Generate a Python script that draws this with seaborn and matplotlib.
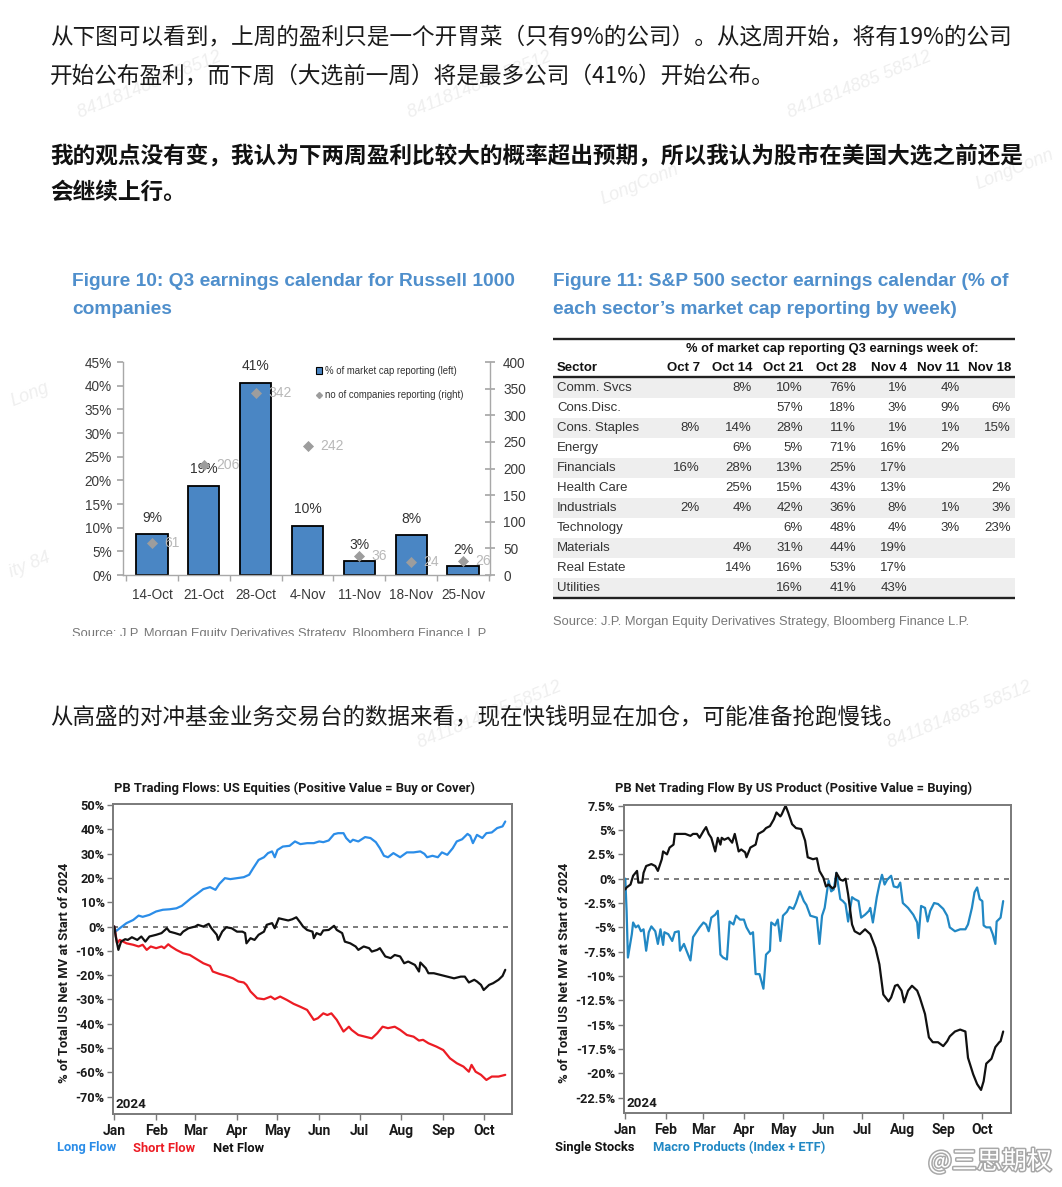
import numpy as np
import pandas as pd
import matplotlib
matplotlib.use('Agg')
import matplotlib.pyplot as plt
import matplotlib.patheffects as pe
from matplotlib.lines import Line2D
from matplotlib.patches import Patch, Rectangle
import seaborn as sns

sns.set_theme(style='white')
plt.rcParams['font.family'] = ['Liberation Sans', 'DejaVu Sans']

W, H = 1062, 1187
CJK = ['Noto Sans CJK SC', 'DejaVu Sans']
BOLD = ['Roboto', 'DejaVu Sans']

# ---- text of the post
para1 = ['从下图可以看到，上周的盈利只是一个开胃菜（只有9%的公司）。从这周开始，将有19%的公司',
         '开始公布盈利，而下周（大选前一周）将是最多公司（41%）开始公布。']
para2 = ['我的观点没有变，我认为下两周盈利比较大的概率超出预期，所以我认为股市在美国大选之前还是',
         '会继续上行。']
para3 = '从高盛的对冲基金业务交易台的数据来看，现在快钱明显在加仓，可能准备抢跑慢钱。'

# ---- Figure 10: Russell 1000 calendar
weeks = ['14-Oct', '21-Oct', '28-Oct', '4-Nov', '11-Nov', '18-Nov', '25-Nov']
pct_mcap = [8.6, 18.8, 40.6, 10.4, 2.9, 8.4, 1.8]
n_companies = [61, 206, 342, 242, 36, 24, 26]

# ---- Figure 11: sector table
sectors = ['Comm. Svcs', 'Cons.Disc.', 'Cons. Staples', 'Energy', 'Financials', 'Health Care',
           'Industrials', 'Technology', 'Materials', 'Real Estate', 'Utilities']
week_cols = ['Oct 7', 'Oct 14', 'Oct 21', 'Oct 28', 'Nov 4', 'Nov 11', 'Nov 18']
oct7 = [None, None, 8, None, 16, None, 2, None, None, None, None]
oct14 = [8, None, 14, 6, 28, 25, 4, None, 4, 14, None]
oct21 = [10, 57, 28, 5, 13, 15, 42, 6, 31, 16, 16]
oct28 = [76, 18, 11, 71, 25, 43, 36, 48, 44, 53, 41]
nov4 = [1, 3, 1, 16, 17, 13, 8, 4, 19, 17, 43]
nov11 = [4, 9, 1, 2, None, None, 1, 3, None, None, None]
nov18 = [None, 6, 15, None, None, 2, 3, 23, None, None, None]
table_cols = [oct7, oct14, oct21, oct28, nov4, nov11, nov18]

# ---- PB trading flows (day offsets from 1 Jan 2024, % of net MV)
long_days = [0, 1, 4, 9, 14, 18, 21, 26, 31, 36, 41, 46, 50, 54, 57, 61, 66, 71, 75, 78,
             82, 86, 91, 96, 100, 103, 107, 111, 114, 117, 119, 121, 125, 130, 134, 138, 143, 148, 152, 155,
             159, 163, 166, 170, 172, 175, 177, 181, 186, 190, 194, 197, 200, 203, 207, 212, 217, 222, 227, 230,
             232, 236, 240, 243, 247, 251, 254, 258, 262, 264, 266, 269, 273, 276, 280, 284, 288, 290]
long_vals = [0, -2, -0.7, 1.4, 2.7, 4.5, 4, 4.8, 6.2, 6.9, 7.1, 7.5, 8.5, 10.3, 11.7, 13.3, 15.4, 16.2, 15.1, 17.6,
             19.9, 19.5, 19.9, 20.3, 21.3, 24, 27.4, 28.5, 30.2, 30.9, 28.5, 31.5, 32.9, 33.2, 35, 33.9, 34.3, 34.3, 35, 34.7,
             35.4, 38, 38.4, 38.4, 36.4, 34.7, 35.7, 35, 36.8, 36.4, 34.7, 32.2, 29.1, 28.5, 30.2, 28.5, 30.5, 30.5, 30.9, 29.9,
             28.5, 29.1, 28.5, 30.5, 29.5, 32.2, 35, 35.9, 38.1, 37.3, 34.3, 37.7, 36.4, 38.4, 38.7, 40.5, 41.2, 43.2]
short_days = [0, 2, 4, 9, 14, 18, 21, 24, 27, 31, 35, 37, 40, 42, 46, 51, 56, 61, 66, 71,
              73, 78, 83, 88, 92, 96, 98, 101, 106, 111, 116, 119, 123, 128, 133, 138, 143, 148, 151, 155,
              158, 161, 165, 170, 174, 176, 181, 186, 191, 195, 199, 203, 208, 212, 217, 222, 226, 229, 233, 239,
              244, 249, 254, 259, 263, 265, 268, 272, 276, 280, 285, 290]
short_vals = [0, -6.9, -5.5, -6.9, -7.5, -8.2, -7.5, -9.6, -8.2, -8.9, -8.2, -8.9, -7.3, -8.2, -9.6, -11, -11.7, -13.4, -15.1, -16.2,
              -18.5, -19.5, -20.3, -21.3, -22.6, -23, -24, -26.7, -29.5, -29.9, -28.8, -29.9, -28.8, -30.2, -31.8, -33, -34.3, -38.4, -37.7, -35.7,
              -36.4, -35.7, -38.4, -43.2, -41.2, -42.5, -44.6, -45.3, -46, -43.9, -41.2, -41.8, -41.2, -42.5, -44.6, -45.3, -46.9, -46.6, -48, -49.4,
              -50.8, -54.2, -56.2, -57.6, -59.7, -56.9, -59.7, -61, -63.1, -61.7, -61.7, -61]
net_days = [0, 1, 3, 5, 8, 10, 13, 17, 20, 23, 26, 31, 35, 39, 41, 45, 49, 51, 55, 60,
            62, 66, 70, 72, 76, 77, 80, 83, 87, 91, 95, 97, 98, 101, 104, 107, 111, 113, 117, 119,
            122, 125, 129, 132, 135, 138, 140, 143, 147, 148, 150, 153, 155, 159, 163, 165, 169, 171, 175, 179,
            181, 185, 189, 191, 195, 197, 201, 205, 208, 212, 215, 218, 223, 226, 227, 231, 233, 237, 242, 247,
            252, 257, 260, 263, 267, 269, 272, 274, 278, 281, 285, 288, 290]
net_vals = [0, -4.1, -9.6, -6.2, -5.2, -5.5, -4.4, -5.5, -4.1, -6.2, -4.1, -3.4, -2.7, -0.7, -2.1, -2.7, -3.4, -2.1, -0.7, 0,
            0.7, 0, 1.1, -0.7, -3.4, -5.5, -2.1, -0.3, -0.7, -2.1, -2.1, -2.7, -6.9, -4.8, -5.5, -3.4, -2.1, 0.7, 1.4, -0.7,
            3.4, 3, 2.5, 3, 3.8, 1.6, 0, -1.4, -2.1, -4.8, -2.7, -3.4, -1.6, -1.4, 0.3, -1.4, -2.7, -6.2, -6.9, -8.2,
            -9.6, -8.2, -8.9, -10.3, -9.6, -8.9, -12.3, -13, -11.7, -12.3, -15.1, -14.4, -15.8, -18.5, -14.8, -17.1, -19.2, -19.2, -19.9, -20.6,
            -21.3, -20.6, -20.6, -23, -21.9, -22.6, -24, -26.1, -24, -23.3, -21.9, -20.3, -17.8]

single_days = [0, 1, 4, 6, 9, 10, 13, 14, 16, 20, 23, 25, 28, 29, 32, 34, 37, 38, 42, 46,
               50, 52, 55, 57, 60, 62, 64, 66, 69, 71, 73, 74, 76, 79, 82, 84, 87, 89, 92, 93,
               96, 100, 102, 106, 108, 111, 114, 116, 119, 120, 123, 125, 128, 131, 135, 138, 140, 144, 147, 149,
               152, 154, 156, 159, 161, 162, 165, 167, 169, 171, 174, 176, 180, 184, 188, 192, 195, 198, 202, 204,
               207, 209, 212, 214, 217, 220, 224, 226, 230, 233, 236, 240, 244, 247, 249, 253, 257, 261, 263, 267,
               270, 273, 275, 277, 281, 284, 287, 288, 290]
single_vals = [-1.1, -0.9, -0.6, 0.3, 0.8, -0.4, -0.4, 0.6, 1.3, 1.5, 1.3, 0.8, 2, 2.8, 2.5, 3.2, 3.5, 4.6, 4.6, 4.6,
               4.4, 4.6, 4.6, 4.2, 4.9, 5.3, 4.6, 4.2, 2.8, 4.2, 3.5, 4.2, 4, 4.2, 3.7, 4.6, 2.8, 3, 2.7, 2.2,
               3.2, 3.5, 4.6, 4.9, 5.2, 5.4, 6.1, 6.8, 6.4, 6.6, 7.5, 6.8, 5.6, 5.2, 5.1, 3.9, 2.2, 2.0, 2.1, 0.8,
               0.1, -0.8, -0.6, -1, -0.8, 0.6, -0.1, -0.2, 0, -1.6, -4.7, -5.4, -5.7, -5.2, -5.7, -7.1, -8.8, -11.9, -12.6, -12.2,
               -11, -10.9, -11.5, -12.7, -11.5, -11, -11.5, -12.2, -13.9, -16.3, -16.8, -16.8, -17.2, -16.7, -16.2, -15.7, -15.5, -15.7, -18.4, -20.1,
               -21.1, -21.7, -20.8, -19, -18.5, -17.3, -16.8, -16.7, -15.7]
macro_days = [0, 1, 2, 5, 6, 8, 10, 12, 14, 16, 18, 20, 23, 25, 27, 29, 30, 33, 36, 38,
              41, 42, 45, 47, 50, 52, 55, 57, 60, 62, 64, 66, 69, 71, 73, 75, 78, 80, 83, 85,
              88, 91, 93, 96, 98, 100, 102, 103, 106, 108, 111, 112, 115, 117, 119, 121, 124, 126, 129, 131,
              134, 137, 139, 142, 147, 149, 151, 153, 156, 158, 160, 162, 165, 167, 169, 171, 174, 176, 179, 181,
              184, 187, 188, 190, 193, 195, 197, 199, 201, 204, 206, 209, 211, 213, 217, 221, 224, 225, 227, 230,
              232, 234, 237, 240, 244, 247, 249, 253, 257, 261, 263, 266, 268, 270, 272, 274, 275, 277, 280, 282,
              284, 285, 288, 290]
macro_vals = [0, -3.3, -8.1, -5.7, -4.5, -5, -4.8, -5.4, -5.2, -7.4, -5.5, -4.9, -5.4, -6.7, -5.2, -6.8, -5.5, -5.7, -6.4, -5.5,
              -5.4, -7.4, -6.7, -7.4, -8.4, -6, -5.4, -5, -4.5, -4.7, -5.4, -4, -3.7, -3.3, -7.8, -8.1, -8.3, -4.4, -4.7, -3.8,
              -4.2, -4.2, -5, -5.7, -5.5, -9.8, -9.8, -9.8, -11.3, -7.8, -7.4, -4.5, -4.8, -4.2, -6.4, -3.8, -3.4, -2.9, -3.1, -2.5,
              -1.3, -2.3, -2.7, -3.8, -4, -6.7, -3.8, -3, -0.2, -1.3, -1.1, 0.6, -2.1, -2.3, -2.6, -4.4, -1.9, -2.1, -2.3, -4,
              -3.7, -3.3, -3, -4.5, -1.9, -0.6, 0.4, -0.6, -0.1, 0.3, -0.8, -0.9, -0.4, -2.5, -3, -3.7, -4.5, -6.1, -2.8, -3,
              -4.4, -3.3, -2.5, -2.6, -3.1, -3.8, -5, -5.4, -5.2, -5.2, -4.7, -3, -1.4, -0.9, -2.1, -2.3, -4.8, -5, -5, -5.7,
              -6.7, -4.4, -4, -2.3]

start = pd.Timestamp('2024-01-01')


def series(days, vals):
    return pd.DataFrame({'date': start + pd.to_timedelta(days, unit='D'), 'value': vals})


fig = plt.figure(figsize=(W / 100, H / 100), dpi=100)
fig.patch.set_facecolor('white')


def box(x0, y0, x1, y1):
    return fig.add_axes([x0 / W, 1 - y1 / H, (x1 - x0) / W, (y1 - y0) / H])


def ft(x, y, s, **kw):
    kw.setdefault('va', 'center')
    return fig.text(x / W, 1 - y / H, s, **kw)


# faint watermarks
for (wx, wy, s) in [(150, 85, '8411814885 58512'), (480, 85, '8411814885 58512'),
                    (860, 85, '8411814885 58512'), (640, 185, 'LongConn'), (1015, 170, 'LongConn'),
                    (490, 715, '8411814885 58512'), (960, 715, '8411814885 58512'),
                    (30, 395, 'Long'), (30, 565, 'ity 84')]:
    ft(wx, wy, s, ha='center', fontsize=13, color='#efefef', rotation=22, style='italic', zorder=0)

# Chinese paragraphs
ft(50, 37, para1[0], family=CJK, fontsize=16.3, color='#1a1a1a')
ft(50, 76, para1[1], family=CJK, fontsize=16.3, color='#1a1a1a')
ft(50, 157, para2[0], family=CJK, fontsize=16.3, color='#111', fontweight='bold')
ft(50, 192, para2[1], family=CJK, fontsize=16.3, color='#111', fontweight='bold')
ft(50, 717, para3, family=CJK, fontsize=16.2, color='#1a1a1a')

# ---------------- Figure 10 ----------------
blue_t = '#4f8fcc'
ft(72, 281, 'Figure 10: Q3 earnings calendar for Russell 1000', fontsize=13.8, fontweight='bold', color=blue_t)
ft(72, 309, 'companies', fontsize=13.8, fontweight='bold', color=blue_t)

ax = box(123, 362, 490, 575)
sns.barplot(x=weeks, y=pct_mcap, color='#4a86c4', edgecolor='black', linewidth=1.3,
            width=0.6, saturation=1, ax=ax)
ax.set_ylim(0, 45)
ax.set_yticks(range(0, 46, 5))
ax.set_yticklabels([f'{v}%' for v in range(0, 46, 5)])
for i, v in enumerate(pct_mcap):
    ax.annotate(f'{v:.0f}%', (i, v), xytext=(0, 7), textcoords='offset points',
                ha='center', va='bottom', fontsize=10, color='#333')
ax2 = ax.twinx()
sns.scatterplot(x=weeks, y=n_companies, marker='D', s=32, color='#9d9d9d', linewidth=0, ax=ax2, zorder=5)
for i, v in enumerate(n_companies):
    ax2.annotate(str(v), (i, v), xytext=(9, 0), textcoords='offset points',
                 ha='left', va='center', fontsize=10, color='#b8b8b8')
ax2.set_ylim(0, 400)
ax2.set_yticks(range(0, 401, 50))
ax.set_xlim(-0.56, 6.52)
ax.set_xticks(np.arange(-0.5, 7, 1), minor=True)
for a in (ax, ax2):
    a.set_xlabel('')
    a.set_ylabel('')
    for s in a.spines.values():
        s.set_visible(False)
ax.spines['left'].set_visible(True)
ax.spines['bottom'].set_visible(True)
ax2.spines['right'].set_visible(True)
for s in (ax.spines['left'], ax.spines['bottom'], ax2.spines['right']):
    s.set_color('#a8a8a8')
    s.set_linewidth(1)
ax.tick_params(axis='y', left=True, length=4, color='#a8a8a8', labelsize=9.8, labelcolor='#3a3a3a', pad=4)
ax.tick_params(axis='x', which='major', length=0, labelsize=9.8, labelcolor='#3a3a3a', pad=9)
ax.tick_params(axis='x', which='minor', bottom=True, length=4, color='#a8a8a8')
ax2.tick_params(axis='y', right=True, direction='inout', length=7, color='#a8a8a8',
                labelsize=9.8, labelcolor='#3a3a3a', pad=6)
h1 = Patch(facecolor='#4a86c4', edgecolor='black', linewidth=0.8)
h2 = Line2D([], [], marker='D', color='#9d9d9d', lw=0, markersize=3)
ax2.legend([h1, h2], ['% of market cap reporting (left)', 'no of companies reporting (right)'],
           loc='upper left', bbox_to_anchor=(0.52, 0.99), frameon=False, fontsize=6.9,
           handlelength=0.7, handleheight=0.7, handletextpad=0.3, labelspacing=1.45,
           borderaxespad=0, borderpad=0.2, labelcolor='#333')

src = 'Source: J.P. Morgan Equity Derivatives Strategy, Bloomberg Finance L.P.'
ft(72, 634, src, fontsize=9.3, color='#777', zorder=2)
fig.patches.append(Rectangle((0, 1 - 648 / H), 545 / W, 12 / H, transform=fig.transFigure,
                             facecolor='white', edgecolor='none', zorder=5))

# ---------------- Figure 11 ----------------
ft(553, 281, 'Figure 11: S&P 500 sector earnings calendar (% of', fontsize=13.8, fontweight='bold', color=blue_t)
ft(553, 309, 'each sector\u2019s market cap reporting by week)', fontsize=13.8, fontweight='bold', color=blue_t)

tx = box(553, 330, 1015, 602)
tx.set_xlim(553, 1015)
tx.set_ylim(602, 330)
tx.axis('off')
col_right = [700, 752, 803, 856, 907, 960, 1011]
for i, name in enumerate(sectors):
    yc = 388 + 20 * i
    if i % 2 == 0:
        tx.axhspan(yc - 10, yc + 10, color='#eeeeee', lw=0, zorder=0)
    tx.text(557, yc, name, ha='left', va='center', fontsize=9.5, color='#333')
    for xr, col in zip(col_right, table_cols):
        if col[i] is not None:
            tx.text(xr, yc, f'{col[i]}%', ha='right', va='center', fontsize=9.5, color='#333')
tx.text(832, 349, '% of market cap reporting Q3 earnings week of:', ha='center', va='center',
        fontsize=9.3, fontweight='bold', color='#111')
tx.text(557, 368, 'Sector', ha='left', va='center', fontsize=9.5, fontweight='bold', color='#111')
for xr, wk in zip(col_right, week_cols):
    tx.text(xr, 368, wk, ha='right', va='center', fontsize=9.5, fontweight='bold', color='#111')
for yl in (339, 377.5, 598.5):
    tx.axhline(yl, color='#222', lw=1.7)
ft(553, 622, src, fontsize=9.3, color='#777')

# ---------------- PB flow charts ----------------
months = pd.date_range('2024-01-01', '2024-10-01', freq='MS')


def style_flow(a, ylim, yticks, end, ylab_x):
    a.set_xlim(pd.Timestamp('2023-12-31'), end)
    a.set_ylim(*ylim)
    a.set_yticks(yticks)
    a.set_yticklabels([f'{v:g}%' for v in yticks], fontweight='bold', family=BOLD, fontsize=9.2)
    a.set_xticks(months)
    a.set_xticklabels([m.strftime('%b') for m in months], fontweight='bold', family=BOLD, fontsize=10)
    a.axhline(0, color='#666', lw=1.2, ls=(0, (3, 3)), zorder=1)
    for s in a.spines.values():
        s.set_color('#7a7a7a')
        s.set_linewidth(1.4)
    a.tick_params(left=True, bottom=True, length=4.5, width=1, color='#7a7a7a', pad=1.5,
                  labelcolor='#1a1a1a')
    a.tick_params(axis='x', pad=2.5)
    a.set_xlabel('')
    a.set_ylabel('% of Total US Net MV at Start of 2024', fontsize=9.4, fontweight='bold',
                 family=BOLD, color='#1a1a1a')
    a.yaxis.set_label_coords(ylab_x, 0.456)
    a.text(0.006, 0.03, '2024', transform=a.transAxes, ha='left', va='center',
           fontsize=9.6, fontweight='bold', family=BOLD, color='#1a1a1a')


ax3 = box(113, 804, 512, 1114)
sns.lineplot(data=series(long_days, long_vals), x='date', y='value', color='#2b8de8', lw=1.6, estimator=None, ax=ax3)
sns.lineplot(data=series(short_days, short_vals), x='date', y='value', color='#ec1c24', lw=1.6, estimator=None, ax=ax3)
sns.lineplot(data=series(net_days, net_vals), x='date', y='value', color='#111111', lw=1.6, estimator=None, ax=ax3)
style_flow(ax3, (-77.1, 50.4), list(range(-70, 51, 10)), pd.Timestamp('2024-10-22'), -0.105)
ft(295, 788, 'PB Trading Flows: US Equities (Positive Value = Buy or Cover)', ha='center',
   fontsize=9.4, fontweight='bold', family=BOLD, color='#1a1a1a')
ft(57, 1148, 'Long Flow', fontsize=9.3, fontweight='bold', family=BOLD, color='#2b8de8')
ft(133, 1148, 'Short Flow', fontsize=9.3, fontweight='bold', family=BOLD, color='#ec1c24')
ft(213, 1148, 'Net Flow', fontsize=9.3, fontweight='bold', family=BOLD, color='#111')

ax4 = box(624, 805, 1011, 1113)
sns.lineplot(data=series(macro_days, macro_vals), x='date', y='value', color='#2188c4', lw=1.6, estimator=None, ax=ax4)
sns.lineplot(data=series(single_days, single_vals), x='date', y='value', color='#111111', lw=1.6, estimator=None, ax=ax4)
style_flow(ax4, (-24.07, 7.57), list(np.arange(-22.5, 7.6, 2.5)), pd.Timestamp('2024-10-23'), -0.137)
ft(794, 788, 'PB Net Trading Flow By US Product (Positive Value = Buying)', ha='center',
   fontsize=9.4, fontweight='bold', family=BOLD, color='#1a1a1a')
ft(555, 1148, 'Single Stocks', fontsize=9.3, fontweight='bold', family=BOLD, color='#111')
ft(653, 1148, 'Macro Products (Index + ETF)', fontsize=9.3, fontweight='bold', family=BOLD, color='#2188c4')

# weibo mark
ft(990, 1162, '@三思期权', ha='center', family=CJK, fontsize=18, color='white',
   path_effects=[pe.withStroke(linewidth=2.2, foreground='#a8a8a8')], zorder=6)

fig.savefig('out.png', dpi=100)
